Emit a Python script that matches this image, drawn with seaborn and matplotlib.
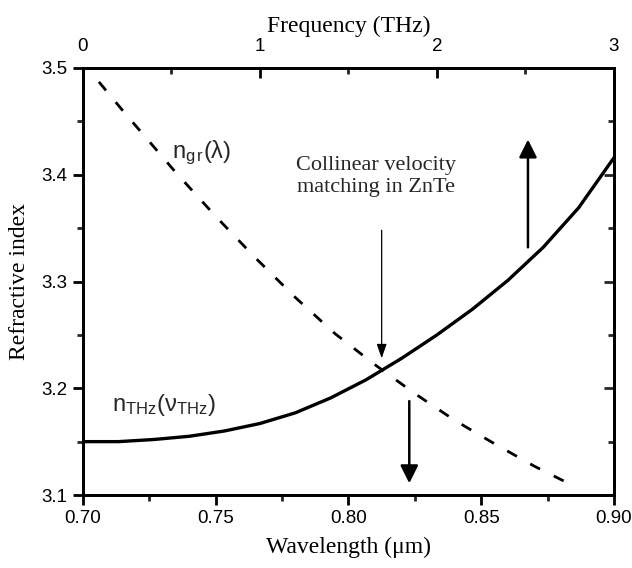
import numpy as np
import pandas as pd
import matplotlib
matplotlib.use("Agg")
import matplotlib.pyplot as plt
import seaborn as sns
from matplotlib.ticker import MultipleLocator

# ---- data ----
wavelength_um = [0.706, 0.715, 0.725, 0.735, 0.750, 0.765, 0.780, 0.795, 0.810, 0.825, 0.840, 0.855, 0.870, 0.886]
n_gr = [3.487, 3.460, 3.431, 3.402, 3.361, 3.322, 3.285, 3.251, 3.222, 3.195, 3.170, 3.148, 3.127, 3.107]

freq_thz = [0.0, 0.2, 0.4, 0.6, 0.8, 1.0, 1.2, 1.4, 1.6, 1.8, 2.0, 2.2, 2.4, 2.6, 2.8, 3.0]
n_thz = [3.150, 3.150, 3.152, 3.155, 3.160, 3.167, 3.177, 3.191, 3.208, 3.228, 3.250,
         3.274, 3.301, 3.332, 3.369, 3.416]

wl_ticks = [0.70, 0.75, 0.80, 0.85, 0.90]
wl_tick_labels = ["0.70", "0.75", "0.80", "0.85", "0.90"]
fr_ticks = [0, 1, 2, 3]
n_ticks = [3.1, 3.2, 3.3, 3.4, 3.5]

df_gr = pd.DataFrame({"wl": wavelength_um, "n": n_gr})
df_thz = pd.DataFrame({"f": freq_thz, "n": n_thz})

sns.set_theme(style="white")
plt.rcParams["font.family"] = ["Liberation Sans", "DejaVu Sans"]
plt.rcParams["mathtext.fontset"] = "custom"
plt.rcParams["mathtext.rm"] = "Liberation Sans"
plt.rcParams["mathtext.it"] = "Liberation Sans:italic"

fig = plt.figure(figsize=(6.32, 5.68), dpi=100)
ax = fig.add_axes([0.1313, 0.1285, 0.8402, 0.7518])

sns.lineplot(data=df_gr, x="wl", y="n", ax=ax, color="black", lw=2.0,
             linestyle=(0, (4, 5.5)), estimator=None, sort=False)
ax.set_xlim(0.70, 0.90)
ax.set_ylim(3.1, 3.5)

axt = ax.twiny()
sns.lineplot(data=df_thz, x="f", y="n", ax=axt, color="black", lw=2.4,
             estimator=None, sort=False)
axt.set_xlim(0, 3)
axt.set_ylim(3.1, 3.5)

for a in (ax, axt):
    for s in a.spines.values():
        s.set_color("black")
        s.set_linewidth(2.0)
        s.set_visible(True)

TL = 13.5
# bottom / left axes
ax.set_xticks(wl_ticks)
ax.set_xticklabels(wl_tick_labels)
ax.xaxis.set_minor_locator(MultipleLocator(0.025))
ax.set_yticks(n_ticks)
ax.set_yticklabels([f"{v:.1f}" for v in n_ticks])
ax.yaxis.set_minor_locator(MultipleLocator(0.05))
ax.tick_params(axis="both", which="major", direction="out", length=7, width=2,
               labelsize=TL, colors="black", bottom=True, left=True, pad=4)
ax.tick_params(axis="both", which="minor", direction="out", length=4.5, width=2,
               bottom=True, left=True)

# top axis (frequency)
axt.set_xticks(fr_ticks)
axt.set_xticklabels([str(v) for v in fr_ticks])
axt.xaxis.set_minor_locator(MultipleLocator(0.5))
axt.tick_params(axis="x", which="major", direction="in", length=7, width=2,
                labelsize=TL, top=True, pad=9, colors="black")
axt.tick_params(axis="x", which="minor", direction="in", length=4.5, width=2, top=True)

# right ticks
axr = ax.secondary_yaxis("right")
axr.set_yticks(n_ticks)
axr.yaxis.set_minor_locator(MultipleLocator(0.05))
axr.tick_params(axis="y", which="major", direction="in", length=7, width=2, labelright=False)
axr.tick_params(axis="y", which="minor", direction="in", length=4.5, width=2)
axr.spines["right"].set_linewidth(2.0)
axr.spines["right"].set_color("black")

serif = ["Liberation Serif", "DejaVu Serif"]
ax.set_xlabel("Wavelength (μm)", fontsize=17, family=serif, labelpad=7, color="black")
ax.set_ylabel("Refractive index", fontsize=17, family=serif, labelpad=8, color="black")
axt.set_xlabel("Frequency (THz)", fontsize=17, family=serif, labelpad=5, color="black")
axt.set_ylabel("")

# curve labels
ax.text(0.7335, 3.421, r"n$_{\mathregular{g\,r}}$(λ)", fontsize=17, va="center", ha="left")
ax.text(0.7109, 3.184, r"n$_{\mathregular{THz}}$(ν$_{\mathregular{THz}}$)", fontsize=17,
        va="center", ha="left")

# annotation
ax.text(0.8104, 3.398, "Collinear velocity\nmatching in ZnTe", fontsize=16, family=serif,
        ha="center", va="center", linespacing=1.2)
ax.annotate("", xy=(0.8125, 3.228), xytext=(0.8125, 3.348),
            arrowprops=dict(arrowstyle="-|>,head_length=0.72,head_width=0.25", lw=0.9,
                            color="black", shrinkA=0, shrinkB=0))
ax.annotate("", xy=(0.8676, 3.433), xytext=(0.8676, 3.332),
            arrowprops=dict(arrowstyle="-|>,head_length=0.9,head_width=0.45", lw=1.8,
                            color="black", shrinkA=0, shrinkB=0))
ax.annotate("", xy=(0.8229, 3.111), xytext=(0.8229, 3.188),
            arrowprops=dict(arrowstyle="-|>,head_length=0.9,head_width=0.45", lw=1.8,
                            color="black", shrinkA=0, shrinkB=0))

fig.savefig("out.png", dpi=100)
